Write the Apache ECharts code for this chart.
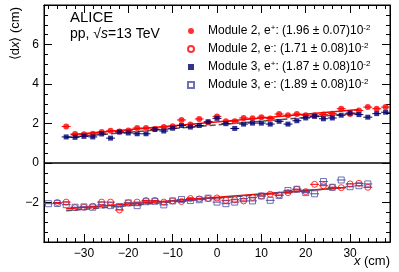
<!DOCTYPE html>
<html><head><meta charset="utf-8">
<script src="https://cdn.jsdelivr.net/npm/echarts@6/dist/echarts.min.js"></script>
<style>html,body{margin:0;padding:0;background:#fff}#c{width:399px;height:272px}</style>
</head><body><div id="c"></div>
<script>
// bin centres (cm)
const xPositions = [-38,-36,-34,-32,-30,-28,-26,-24,-22,-20,-18,-16,-14,-12,-10,-8,-6,-4,-2,0,2,4,6,8,10,12,14,16,18,20,22,24,26,28,30,32,34,36,38];
// Module 2, e+ (filled red circles)
const mod2Pos = [null,null,1.85,1.47,1.45,1.48,1.57,1.63,1.60,1.64,1.77,1.77,1.72,1.82,1.86,2.18,1.95,2.23,2.05,2.36,2.11,2.11,2.28,2.26,2.32,2.25,2.48,2.42,2.48,2.42,2.42,2.45,2.50,2.75,2.48,2.66,2.83,2.75,2.83];
// Module 2, e- (open red circles)
const mod2Neg = [null,-2.00,-1.98,-2.26,-2.24,-2.19,-1.98,-1.98,-2.38,-2.02,-1.98,-1.90,-1.90,-1.98,-1.92,-1.95,-1.80,-1.82,-1.80,-1.77,-1.89,-1.86,-1.92,-1.74,-1.67,-1.58,-1.62,-1.50,-1.33,-1.45,-1.08,-1.15,-1.23,-1.25,-1.06,-1.03,-1.23,null,null];
// Module 3, e+ (filled navy squares)
const mod3Pos = [null,null,1.32,1.30,1.35,1.32,1.47,1.26,1.57,1.52,1.48,1.48,1.70,1.62,1.76,1.90,1.82,1.90,2.09,2.26,1.99,1.75,1.97,2.02,2.02,1.97,2.11,1.97,2.14,2.28,2.36,2.24,2.28,2.42,2.53,2.45,2.32,2.50,2.57];
// Module 3, e- (open navy squares)
const mod3Neg = [-2.06,-2.05,-2.11,-2.24,-2.22,-2.24,-2.12,-2.16,-2.20,-2.02,-2.16,-1.96,-1.94,-2.12,-1.92,-1.85,-1.90,-1.86,-1.78,-1.98,-2.06,-1.98,-1.81,-1.92,-1.67,-1.89,-1.65,-1.39,-1.33,-1.50,-1.56,-0.94,-1.23,-0.86,-1.20,-1.15,-1.06,null,null];
// linear fits: slope, intercept, range
const fitSlopes = [0.0196, 0.0171, 0.0187, 0.0189];
const fitIntercepts = [2.08, -1.74, 1.93, -1.78];
const fitMin = [-33, -34, -34, -34];
const fitMax = [32, 29, 32, 29];
const binHalfWidth = 1;
// ticks
const xMajorTicks = [-30,-20,-10,0,10,20,30];
const xMinorTicks = [-38,-36,-34,-32,-30,-28,-26,-24,-22,-20,-18,-16,-14,-12,-10,-8,-6,-4,-2,0,2,4,6,8,10,12,14,16,18,20,22,24,26,28,30,32,34,36,38];
const seriesNames = ['Module 2, e+','Module 2, e-','Module 3, e+','Module 3, e-'];
const legendTexts = [
  '{g|}{n|Module 2, e}{s|+}{n|: (1.96 ± 0.07)10}{s|-2}',
  '{g|}{n|Module 2, e}{s|-}{n|: (1.71 ± 0.08)10}{s|-2}',
  '{g|}{n|Module 3, e}{s|+}{n|: (1.87 ± 0.08)10}{s|-2}',
  '{g|}{n|Module 3, e}{s|-}{n|: (1.89 ± 0.08)10}{s|-2}'
];

const FONT = '"Liberation Sans", Arial, Helvetica, sans-serif';
const RED = '#ff0000', NAVY = '#000070', BLUE = '#4c4ca6', FITDARK = '#505050';
const colors = [RED, RED, NAVY, BLUE];
const allVals = [mod2Pos, mod2Neg, mod3Pos, mod3Neg];

function pairs(vals){ const out=[]; xPositions.forEach((x,i)=>{ if(vals[i]!=null) out.push([x, vals[i]]); }); return out; }

const series = [];
for (let k=0;k<4;k++){
  series.push({type:'line', silent:true, showSymbol:false, symbol:'none', z:1,
    data:[[fitMin[k], fitIntercepts[k]+fitSlopes[k]*fitMin[k]],[fitMax[k], fitIntercepts[k]+fitSlopes[k]*fitMax[k]]],
    lineStyle: k<2 ? {color:RED, width:1.5} : {color:FITDARK, width:1.5, type:[6,3]}});
}
for (let k=0;k<4;k++){
  const c = colors[k];
  series.push({type:'custom', silent:true, z:2, data:pairs(allVals[k]),
    renderItem:(params, api)=>{
      const x=api.value(0), y=api.value(1);
      const p1=api.coord([x-binHalfWidth,y]), p2=api.coord([x+binHalfWidth,y]);
      return {type:'line', shape:{x1:p1[0],y1:p1[1],x2:p2[0],y2:p2[1]}, style:{stroke:c, lineWidth:1}};
    }});
}
const symbolDefs = [
  {symbol:'circle', symbolSize:6, itemStyle:{color:RED}},
  {symbol:'circle', symbolSize:6, itemStyle:{color:'rgba(255,255,255,0)', borderColor:RED, borderWidth:1}},
  {symbol:'rect', symbolSize:5, itemStyle:{color:NAVY}},
  {symbol:'rect', symbolSize:6, itemStyle:{color:'rgba(255,255,255,0)', borderColor:BLUE, borderWidth:1}}
];
for (let k=0;k<4;k++){
  series.push(Object.assign({type:'scatter', name:seriesNames[k], z:3, data:pairs(allVals[k])}, symbolDefs[k]));
}
series[0].markLine = {silent:true, symbol:'none', label:{show:false}, lineStyle:{color:'#000', width:1.5, type:'solid'}, data:[{yAxis:0}]};

const gridBox = {left:44, right:9, top:5, bottom:30};
const xBase = {type:'value', min:-39, max:39, splitLine:{show:false}, axisLine:{show:true, onZero:false, lineStyle:{color:'#000', width:1}}};
const yBase = {type:'value', min:-4, max:8, interval:2, splitLine:{show:false},
  axisLine:{show:true, onZero:false, lineStyle:{color:'#000'}},
  axisTick:{show:true, inside:true, length:8, lineStyle:{color:'#000'}},
  minorTick:{show:true, splitNumber:4, length:4, lineStyle:{color:'#000'}}};
const option = {
  animation:false,
  grid: Object.assign({show:true, borderColor:'#000', borderWidth:1, backgroundColor:'transparent'}, gridBox),
  xAxis: [
    Object.assign({}, xBase, {position:'bottom',
      axisTick:{show:true, inside:true, length:8, customValues:xMajorTicks, lineStyle:{color:'#000'}},
      axisLabel:{show:true, customValues:xMajorTicks, fontSize:12, fontFamily:FONT, color:'#000', margin:6, formatter:v=>String(v).replace('-','\u2212')}}),
    Object.assign({}, xBase, {position:'top',
      axisTick:{show:true, inside:true, length:8, customValues:xMajorTicks, lineStyle:{color:'#000'}},
      axisLabel:{show:false}}),
    Object.assign({}, xBase, {position:'bottom',
      axisTick:{show:true, inside:true, length:4, customValues:xMinorTicks, lineStyle:{color:'#000'}},
      axisLabel:{show:false}}),
    Object.assign({}, xBase, {position:'top',
      axisTick:{show:true, inside:true, length:4, customValues:xMinorTicks, lineStyle:{color:'#000'}},
      axisLabel:{show:false}})
  ],
  yAxis: [
    Object.assign({}, yBase, {position:'left',
     axisLabel:{fontSize:12, fontFamily:FONT, color:'#000', margin:5, showMinLabel:false, showMaxLabel:false, formatter:v=>String(v).replace('-','\u2212')}}),
    Object.assign({}, yBase, {position:'right', axisLabel:{show:false}})
  ],
  legend: {orient:'vertical', left:187, top:24, padding:0, itemWidth:6, itemHeight:6, itemGap:5,
    data: seriesNames, selectedMode:false,
    formatter: name => legendTexts[seriesNames.indexOf(name)],
    textStyle:{fontFamily:FONT, color:'#000', fontSize:12,
      rich:{g:{width:9}, n:{fontSize:12, fontFamily:FONT, color:'#000'}, s:{fontSize:8, fontFamily:FONT, color:'#000', padding:[0,0,6,0]}}}},
  graphic: [
    {type:'text', left:70, top:10, style:{text:'ALICE', font:'15px '+FONT, fill:'#000'}},
    {type:'text', left:70, top:27, style:{text:'{a|pp, √}{i|s}{a|=13 TeV}', rich:{a:{font:'14px '+FONT, fill:'#000'}, i:{font:'italic 14px '+FONT, fill:'#000'}}}},
    {type:'text', x:22, y:7, rotation:Math.PI/2, style:{text:'{a|⟨d}{i|x}{a|⟩ (cm)}', align:'right', verticalAlign:'bottom', rich:{a:{font:'13px '+FONT, fill:'#000'}, i:{font:'italic 13px '+FONT, fill:'#000'}}}},
    {type:'text', right:9, top:255, style:{text:'{i|x}{a| (cm)}', rich:{a:{font:'13px '+FONT, fill:'#000'}, i:{font:'italic 13px '+FONT, fill:'#000'}}}}
  ],
  series: series.map(s=>Object.assign({xAxisIndex:0, yAxisIndex:0}, s))
};
const chart = echarts.init(document.getElementById('c'), null, {renderer:'canvas'});
chart.setOption(option);
</script></body></html>
